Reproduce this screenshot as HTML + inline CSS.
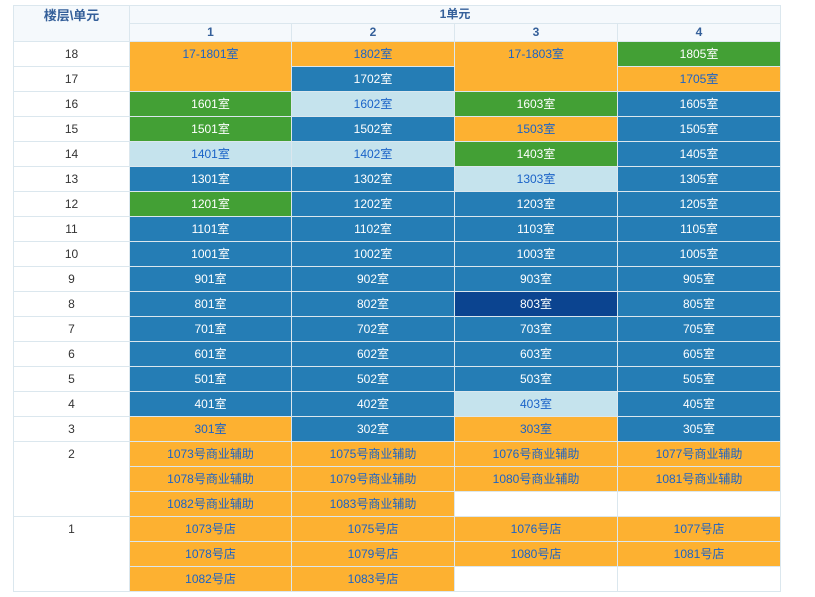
<!DOCTYPE html><html><head><meta charset="utf-8"><style>
body{margin:0;width:815px;height:597px;background:#fff;position:relative;overflow:hidden;font-family:"Liberation Sans","Noto Sans CJK SC",sans-serif;font-size:12px}
#g{position:absolute;left:13px;top:5px;width:768px;height:587px;background:#dbe7ee}
div.x{position:absolute;height:24px;line-height:24px;text-align:center;color:#1a63c8;background:#fdb131}
.f{left:14px;width:115px;background:#fff!important;color:#333!important}
.a{left:130px;width:161px}.b{left:292px;width:162px}.c{left:455px;width:162px}.d{left:618px;width:162px}
.B{background:#257db5!important;color:#fff!important}.G{background:#43a035!important;color:#fff!important}
.L{background:#c5e3ed!important}.D{background:#0b4490!important;color:#fff!important}.W{background:#fff!important}
.h{background:#f5f9fc!important;color:#35609a!important;font-weight:bold}
</style></head><body><div id="g"></div>
<div class="x f h" style="top:6px;height:35px;line-height:20px;font-size:13px">楼层\单元</div>
<div class="x h" style="left:130px;width:650px;top:6px;height:17px;line-height:17px">1单元</div>
<div class="x a h" style="top:24px;height:17px;line-height:17px">1</div><div class="x b h" style="top:24px;height:17px;line-height:17px">2</div><div class="x c h" style="top:24px;height:17px;line-height:17px">3</div><div class="x d h" style="top:24px;height:17px;line-height:17px">4</div>

<div class="x f" style="top:42px">18</div><div class="x a" style="top:42px;height:49px">17-1801室</div><div class="x b" style="top:42px">1802室</div><div class="x c" style="top:42px;height:49px">17-1803室</div><div class="x d G" style="top:42px">1805室</div>
<div class="x f" style="top:67px">17</div><div class="x b B" style="top:67px">1702室</div><div class="x d" style="top:67px">1705室</div>
<div class="x f" style="top:92px">16</div><div class="x a G" style="top:92px">1601室</div><div class="x b L" style="top:92px">1602室</div><div class="x c G" style="top:92px">1603室</div><div class="x d B" style="top:92px">1605室</div>
<div class="x f" style="top:117px">15</div><div class="x a G" style="top:117px">1501室</div><div class="x b B" style="top:117px">1502室</div><div class="x c" style="top:117px">1503室</div><div class="x d B" style="top:117px">1505室</div>
<div class="x f" style="top:142px">14</div><div class="x a L" style="top:142px">1401室</div><div class="x b L" style="top:142px">1402室</div><div class="x c G" style="top:142px">1403室</div><div class="x d B" style="top:142px">1405室</div>
<div class="x f" style="top:167px">13</div><div class="x a B" style="top:167px">1301室</div><div class="x b B" style="top:167px">1302室</div><div class="x c L" style="top:167px">1303室</div><div class="x d B" style="top:167px">1305室</div>
<div class="x f" style="top:192px">12</div><div class="x a G" style="top:192px">1201室</div><div class="x b B" style="top:192px">1202室</div><div class="x c B" style="top:192px">1203室</div><div class="x d B" style="top:192px">1205室</div>
<div class="x f" style="top:217px">11</div><div class="x a B" style="top:217px">1101室</div><div class="x b B" style="top:217px">1102室</div><div class="x c B" style="top:217px">1103室</div><div class="x d B" style="top:217px">1105室</div>
<div class="x f" style="top:242px">10</div><div class="x a B" style="top:242px">1001室</div><div class="x b B" style="top:242px">1002室</div><div class="x c B" style="top:242px">1003室</div><div class="x d B" style="top:242px">1005室</div>
<div class="x f" style="top:267px">9</div><div class="x a B" style="top:267px">901室</div><div class="x b B" style="top:267px">902室</div><div class="x c B" style="top:267px">903室</div><div class="x d B" style="top:267px">905室</div>
<div class="x f" style="top:292px">8</div><div class="x a B" style="top:292px">801室</div><div class="x b B" style="top:292px">802室</div><div class="x c D" style="top:292px">803室</div><div class="x d B" style="top:292px">805室</div>
<div class="x f" style="top:317px">7</div><div class="x a B" style="top:317px">701室</div><div class="x b B" style="top:317px">702室</div><div class="x c B" style="top:317px">703室</div><div class="x d B" style="top:317px">705室</div>
<div class="x f" style="top:342px">6</div><div class="x a B" style="top:342px">601室</div><div class="x b B" style="top:342px">602室</div><div class="x c B" style="top:342px">603室</div><div class="x d B" style="top:342px">605室</div>
<div class="x f" style="top:367px">5</div><div class="x a B" style="top:367px">501室</div><div class="x b B" style="top:367px">502室</div><div class="x c B" style="top:367px">503室</div><div class="x d B" style="top:367px">505室</div>
<div class="x f" style="top:392px">4</div><div class="x a B" style="top:392px">401室</div><div class="x b B" style="top:392px">402室</div><div class="x c L" style="top:392px">403室</div><div class="x d B" style="top:392px">405室</div>
<div class="x f" style="top:417px">3</div><div class="x a" style="top:417px">301室</div><div class="x b B" style="top:417px">302室</div><div class="x c" style="top:417px">303室</div><div class="x d B" style="top:417px">305室</div>

<div class="x f" style="top:442px;height:74px">2</div>
<div class="x a" style="top:442px">1073号商业辅助</div><div class="x b" style="top:442px">1075号商业辅助</div><div class="x c" style="top:442px">1076号商业辅助</div><div class="x d" style="top:442px">1077号商业辅助</div>
<div class="x a" style="top:467px">1078号商业辅助</div><div class="x b" style="top:467px">1079号商业辅助</div><div class="x c" style="top:467px">1080号商业辅助</div><div class="x d" style="top:467px">1081号商业辅助</div>
<div class="x a" style="top:492px">1082号商业辅助</div><div class="x b" style="top:492px">1083号商业辅助</div><div class="x c W" style="top:492px"></div><div class="x d W" style="top:492px"></div>

<div class="x f" style="top:517px;height:74px">1</div>
<div class="x a" style="top:517px">1073号店</div><div class="x b" style="top:517px">1075号店</div><div class="x c" style="top:517px">1076号店</div><div class="x d" style="top:517px">1077号店</div>
<div class="x a" style="top:542px">1078号店</div><div class="x b" style="top:542px">1079号店</div><div class="x c" style="top:542px">1080号店</div><div class="x d" style="top:542px">1081号店</div>
<div class="x a" style="top:567px">1082号店</div><div class="x b" style="top:567px">1083号店</div><div class="x c W" style="top:567px"></div><div class="x d W" style="top:567px"></div>
</body></html>
